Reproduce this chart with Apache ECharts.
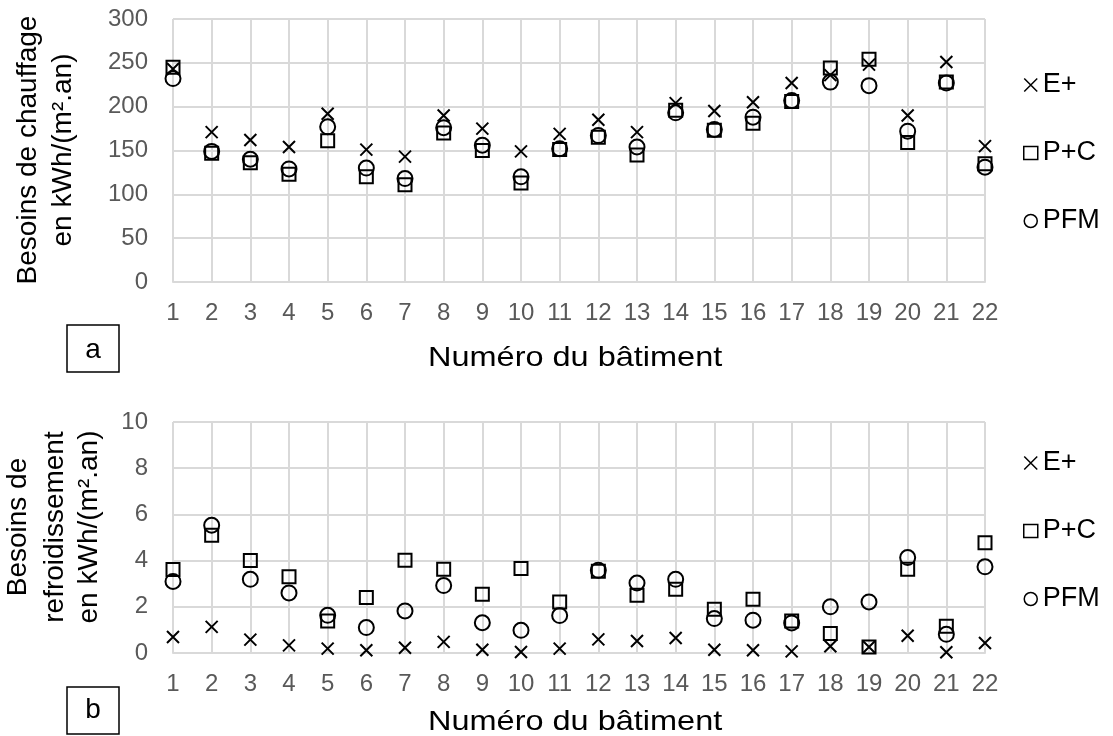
<!DOCTYPE html>
<html>
<head>
<meta charset="utf-8">
<script src="https://cdn.jsdelivr.net/npm/echarts@6/dist/echarts.min.js"></script>
<style>
html,body{margin:0;padding:0;background:#fff;}
#chart{width:1113px;height:736px;}
</style>
</head>
<body>
<div id="chart"></div>
<script>
// ---- data ----
var buildings = [1,2,3,4,5,6,7,8,9,10,11,12,13,14,15,16,17,18,19,20,21,22];
var heatEplus = [243,171,162,154,192,151,143,190,175,149,169,185,171,204,195,205,227,236,248,190,251,155];
var heatPC    = [245,147,136,123,161,120,111,170,150,113,151,165,145,196,173,181,206,244,254,159,228,135];
var heatPFM   = [232,149,140,129,177,130,118,176,156,120,152,167,154,193,174,188,207,228,224,172,227,131];
var coolEplus = [0.69,1.13,0.58,0.33,0.19,0.12,0.23,0.48,0.14,0.04,0.19,0.59,0.52,0.65,0.14,0.12,0.07,0.29,0.26,0.75,0.03,0.43];
var coolPC    = [3.61,5.10,4.00,3.30,1.39,2.40,4.02,3.63,2.54,3.66,2.21,3.54,2.50,2.76,1.89,2.33,1.39,0.84,0.26,3.63,1.16,4.77];
var coolPFM   = [3.10,5.53,3.19,2.60,1.63,1.10,1.82,2.92,1.31,0.98,1.62,3.58,3.03,3.19,1.49,1.42,1.30,2.00,2.21,4.13,0.81,3.73];
var seriesNames = ['E+','P+C','PFM'];
var heatTicks = {min:0, max:300, interval:50};
var coolTicks = {min:0, max:10, interval:2};
var xTitle = 'Numéro du bâtiment';

function pairs(vals){ return buildings.map(function(b,i){ return [b, vals[i]]; }); }

var FONT = '"Liberation Sans", Arial, sans-serif';
var GRID_COLOR = '#d9d9d9';
var CROSS = 'path://M0,0L10,10M10,0L0,10';
var symbols = [CROSS, 'rect', 'circle'];
var sizes = [12, 13, 15];

function xAxis(idx){
  return {
    type:'value', gridIndex:idx, min:1, max:22, interval:1,
    axisLine:{show:true, lineStyle:{color:GRID_COLOR, width:2}},
    axisTick:{show:false},
    splitLine:{show:true, lineStyle:{color:GRID_COLOR, width:2}},
    axisLabel:{color:'#595959', fontSize:24, fontFamily:FONT, margin:19, showMinLabel:true, showMaxLabel:true}
  };
}
function yAxis(idx, t){
  return {
    type:'value', gridIndex:idx, min:t.min, max:t.max, interval:t.interval,
    axisLine:{show:false}, axisTick:{show:false},
    splitLine:{show:true, lineStyle:{color:GRID_COLOR, width:2}},
    axisLabel:{color:'#595959', fontSize:24, fontFamily:FONT, margin:25}
  };
}
function mkSeries(name, k, idx, vals){
  return {
    type:'scatter', name:name, xAxisIndex:idx, yAxisIndex:idx,
    symbol:symbols[k], symbolSize:sizes[k],
    itemStyle:{color:'rgba(0,0,0,0)', borderColor:'#000', borderWidth:2, opacity:1},
    emphasis:{disabled:true},
    data:pairs(vals)
  };
}
function legend(top){
  return {
    orient:'vertical', left:1018, top:top, padding:5, itemWidth:14, itemHeight:13, itemGap:38,
    selectedMode:false,
    textStyle:{color:'#000', fontSize:27, fontFamily:FONT, lineHeight:30},
    data:seriesNames.map(function(n,k){
      return {name:n, icon:symbols[k], itemStyle:{color:'rgba(0,0,0,0)', borderColor:'#000', borderWidth:1.5}};
    })
  };
}
function rotText(x, y, txt){
  return {type:'text', x:x, y:y, rotation:Math.PI/2,
    style:{text:txt, fontSize:28, fontFamily:FONT, fill:'#000',
      align:'center', verticalAlign:'middle', textAlign:'center', textVerticalAlign:'middle'}};
}
function plainText(x, y, txt, size, align, sx){
  return {type:'text', x:x, y:y, scaleX:sx || 1,
    style:{text:txt, fontSize:size, fontFamily:FONT, fill:'#000',
      align:align, verticalAlign:'middle', textAlign:align, textVerticalAlign:'middle'}};
}
function box(x, y, w, h){
  return {type:'rect', shape:{x:x, y:y, width:w, height:h},
    style:{fill:'none', stroke:'#000', lineWidth:1.5}};
}

var chart = echarts.init(document.getElementById('chart'), null, {renderer:'canvas'});
chart.setOption({
  animation:false,
  backgroundColor:'#fff',
  grid:[
    {left:173, right:128, top:19, height:263},
    {left:173, right:128, top:422, height:231}
  ],
  xAxis:[xAxis(0), xAxis(1)],
  yAxis:[yAxis(0, heatTicks), yAxis(1, coolTicks)],
  legend:[legend(65), legend(443)],
  series:[
    mkSeries(seriesNames[0],0,0,heatEplus),
    mkSeries(seriesNames[1],1,0,heatPC),
    mkSeries(seriesNames[2],2,0,heatPFM),
    mkSeries(seriesNames[0],0,1,coolEplus),
    mkSeries(seriesNames[1],1,1,coolPC),
    mkSeries(seriesNames[2],2,1,coolPFM)
  ],
  graphic:[
    rotText(28, 150, 'Besoins de chauffage'),
    rotText(63, 150, 'en kWh/(m².an)'),
    rotText(18, 527, 'Besoins de'),
    rotText(55, 527, 'refroidissement'),
    rotText(89, 527, 'en kWh/(m².an)'),
    plainText(428, 358, xTitle, 28, 'left', 1.16),
    plainText(428, 722, xTitle, 28, 'left', 1.16),
    box(67, 325, 52, 47),
    plainText(93, 350, 'a', 28, 'center'),
    box(67, 687, 52, 47),
    plainText(93, 710, 'b', 28, 'center')
  ]
});
</script>
</body>
</html>
